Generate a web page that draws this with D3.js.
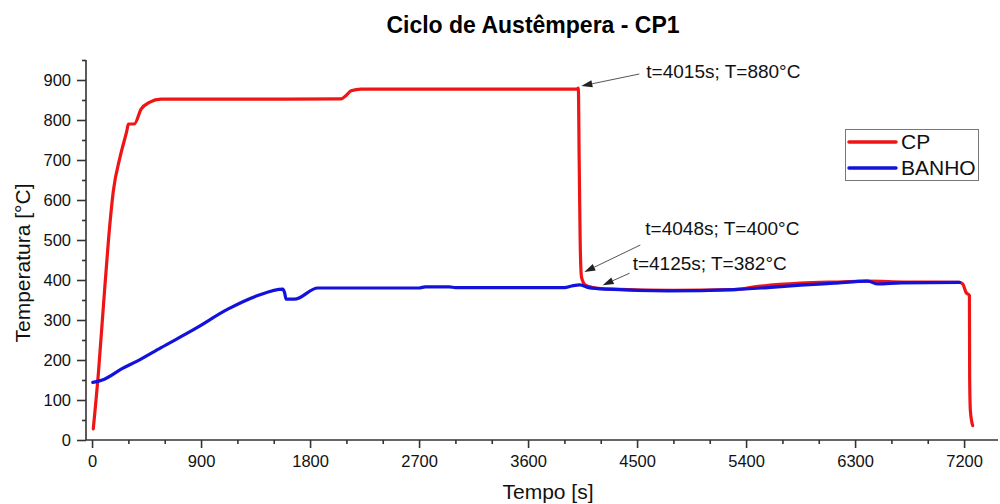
<!DOCTYPE html>
<html>
<head>
<meta charset="utf-8">
<script src="https://cdn.jsdelivr.net/npm/d3@7"></script>
<style>
  body { margin: 0; background: #fff; }
  svg { font-family: "Liberation Sans", Arial, sans-serif; }
</style>
</head>
<body>
<svg id="chart" width="1000" height="504"></svg>
<script>
// CP (specimen) temperature readings
const cpTime = [10, 52, 93, 135, 176, 231, 287, 300, 349, 405, 473, 570, 1200, 2056, 2100, 2139, 2221, 3000, 4005, 4015, 4022, 4030, 4040, 4048, 4070, 4125, 4300, 4800, 5300, 5500, 5850, 6130, 6400, 6700, 7160, 7189, 7216, 7244, 7246, 7252, 7271];
const cpTemp = [28, 166, 332, 498, 623, 707, 773, 790, 790, 827, 844, 852, 852, 853, 862, 873, 877, 877, 878, 880, 700, 500, 410, 400, 388, 382, 377, 374, 376, 384, 392, 395, 397, 395, 394, 390, 369, 361, 156, 73, 36];

// BANHO (bath) temperature readings
const bathTime = [6, 102, 240, 377, 570, 845, 1121, 1368, 1575, 1590, 1602, 1671, 1864, 2700, 2750, 2950, 3000, 3900, 3960, 4028, 4100, 4258, 4754, 5300, 5579, 5850, 6127, 6405, 6487, 6680, 7162];
const bathTemp = [144, 152, 177, 198, 231, 277, 327, 361, 377, 368, 352, 352, 380, 380, 383, 383, 381, 381, 385, 388, 381, 377, 373, 376, 381, 387, 392, 397, 390, 393, 394];

const xTicks = [0, 900, 1800, 2700, 3600, 4500, 5400, 6300, 7200];
const yTicks = [0, 100, 200, 300, 400, 500, 600, 700, 800, 900];

const seriesNames = ["CP", "BANHO"];
const seriesColors = ["#f01515", "#1212dc"];

const annotations = [
  { label: "t=4015s; T=880°C", t: 4015, T: 880 },
  { label: "t=4048s; T=400°C", t: 4048, T: 400 },
  { label: "t=4125s; T=382°C", t: 4125, T: 382 }
];

const svg = d3.select("#chart");
const x = d3.scaleLinear().domain([-50, 7480]).range([86, 998]);
const y = d3.scaleLinear().domain([0, 950]).range([440, 60]);
const axisColor = "#333";

// title
svg.append("text")
  .attr("x", 533).attr("y", 33)
  .attr("text-anchor", "middle")
  .attr("font-size", 23).attr("font-weight", "bold")
  .text("Ciclo de Austêmpera - CP1");

// x axis (major + minor ticks)
const gx = svg.append("g").attr("transform", "translate(0,440)");
gx.call(d3.axisBottom(x).tickValues(d3.range(0, 7500, 300)).tickSize(4).tickFormat(""));
gx.call(g => g.selectAll(".tick").filter(d => d % 900 === 0).select("line").attr("y2", 8));
gx.selectAll(".tick").filter(d => d % 900 === 0).append("text")
  .attr("y", 27).attr("fill", "#111").attr("font-size", 16.5)
  .attr("text-anchor", "middle")
  .text(d => xTicks.includes(d) ? d : "");
gx.select(".domain").attr("d", "M86,0H998");

// y axis
const gy = svg.append("g").attr("transform", "translate(86,0)");
gy.call(d3.axisLeft(y).tickValues(d3.range(0, 951, 50)).tickSize(4).tickFormat(""));
gy.call(g => g.selectAll(".tick").filter(d => d % 100 === 0).select("line").attr("x2", -9));
gy.selectAll(".tick").filter(d => yTicks.includes(d)).append("text")
  .attr("x", -15).attr("dy", "0.35em").attr("fill", "#111").attr("font-size", 16.5)
  .attr("text-anchor", "end")
  .text(d => d);
gy.select(".domain").attr("d", "M0,440V60");

[gx, gy].forEach(g => {
  g.selectAll("line, path").attr("stroke", axisColor).attr("stroke-width", 1.6);
  g.attr("font-family", null);
});

// axis titles
svg.append("text")
  .attr("transform", "translate(30,263) rotate(-90)")
  .attr("text-anchor", "middle").attr("font-size", 21).attr("fill", "#111")
  .text("Temperatura [°C]");
svg.append("text")
  .attr("x", 548).attr("y", 499)
  .attr("text-anchor", "middle").attr("font-size", 21).attr("fill", "#111")
  .text("Tempo [s]");

// lines
const line = d3.line().x(d => x(d[0])).y(d => y(d[1])).curve(d3.curveMonotoneX);
const cpData = d3.zip(cpTime, cpTemp);
const bathData = d3.zip(bathTime, bathTemp);

svg.append("path").datum(cpData)
  .attr("fill", "none").attr("stroke", seriesColors[0]).attr("stroke-width", 3.2)
  .attr("stroke-linejoin", "round").attr("stroke-linecap", "round")
  .attr("d", line);
svg.append("path").datum(bathData)
  .attr("fill", "none").attr("stroke", seriesColors[1]).attr("stroke-width", 3.2)
  .attr("stroke-linejoin", "round").attr("stroke-linecap", "round")
  .attr("d", line);

// annotations: tip offset, tail and text positions relative to the data point
const annLayout = [
  { tip: [3, -2], tail: [61, -14], text: [68, -10] },
  { tip: [2, -8], tail: [58, -35], text: [63, -45] },
  { tip: [11, -2], tail: [38, -14], text: [41, -17] }
];
annotations.forEach((a, i) => {
  const L = annLayout[i];
  const px = x(a.t), py = y(a.T);
  const tx = px + L.tip[0], ty = py + L.tip[1];
  const sx = px + L.tail[0], sy = py + L.tail[1];
  const ang = Math.atan2(ty - sy, tx - sx);
  const len = 11, hw = 3.5;
  const bx = tx - len * Math.cos(ang), by = ty - len * Math.sin(ang);
  svg.append("line")
    .attr("x1", sx).attr("y1", sy).attr("x2", bx).attr("y2", by)
    .attr("stroke", "#555").attr("stroke-width", 1);
  svg.append("path")
    .attr("d", `M${tx},${ty}L${bx + hw * Math.sin(ang)},${by - hw * Math.cos(ang)}L${bx - hw * Math.sin(ang)},${by + hw * Math.cos(ang)}Z`)
    .attr("fill", "#222");
  svg.append("text")
    .attr("x", px + L.text[0]).attr("y", py + L.text[1])
    .attr("font-size", 19).attr("fill", "#111")
    .text(a.label);
});

// legend
const lg = svg.append("g");
lg.append("rect")
  .attr("x", 845.5).attr("y", 129.5).attr("width", 133).attr("height", 51)
  .attr("fill", "#fff").attr("stroke", "#777").attr("stroke-width", 1);
seriesNames.forEach((name, i) => {
  const yy = 142 + i * 26;
  lg.append("line")
    .attr("x1", 849).attr("x2", 896).attr("y1", yy).attr("y2", yy)
    .attr("stroke", seriesColors[i]).attr("stroke-width", 3.5).attr("stroke-linecap", "round");
  lg.append("text")
    .attr("x", 901).attr("y", yy + 7)
    .attr("font-size", 21).attr("fill", "#111")
    .text(name);
});
</script>
</body>
</html>
